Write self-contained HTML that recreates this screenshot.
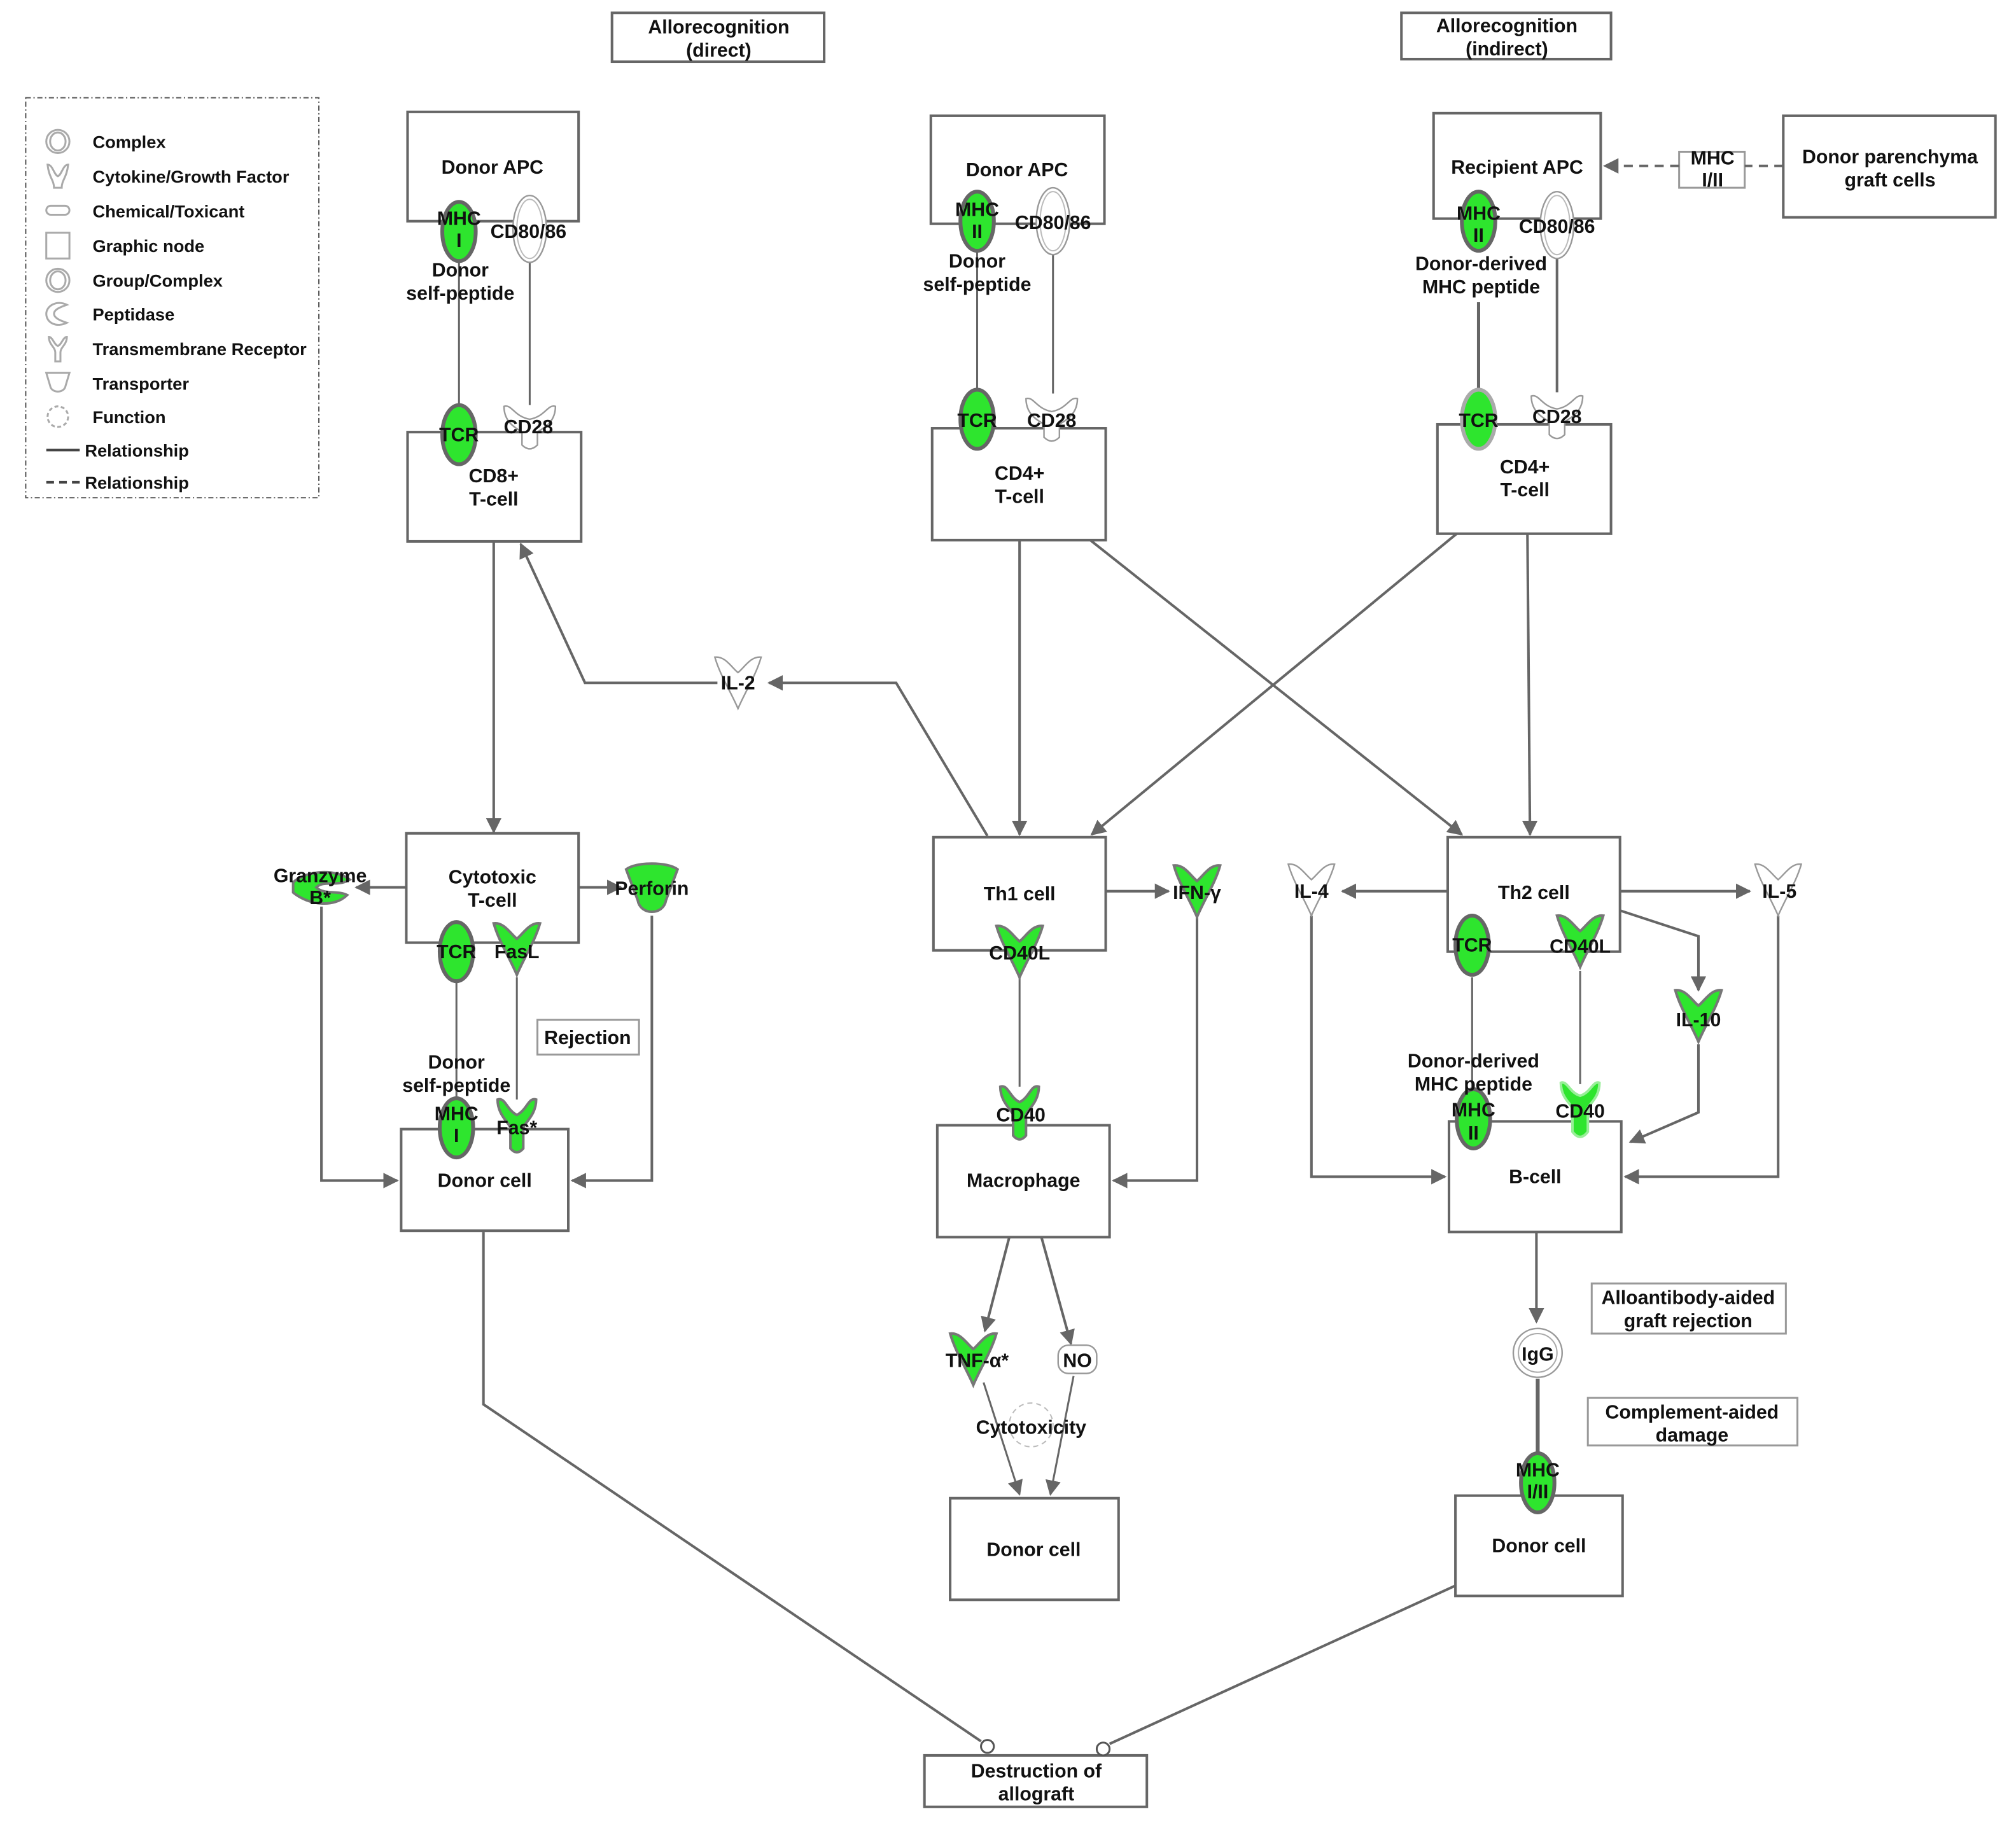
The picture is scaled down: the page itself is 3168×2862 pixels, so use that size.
<!DOCTYPE html>
<html><head><meta charset="utf-8"><style>
html,body{margin:0;padding:0;background:#fff;}
svg{display:block;}
text{font-family:"Liberation Sans",Arial,sans-serif;font-weight:bold;font-size:15px;fill:#111;text-anchor:middle;}
.lg{text-anchor:start;font-size:13.5px;}
</style></head><body>
<svg width="3168" height="2862" viewBox="0 0 1568 1416" preserveAspectRatio="none" xmlns="http://www.w3.org/2000/svg">
<defs>
<marker id="a" viewBox="0 0 10 10" refX="9" refY="5" markerWidth="12" markerHeight="12" markerUnits="userSpaceOnUse" orient="auto"><path d="M0,0 L10,5 L0,10 Z" fill="#666"/></marker>
<g id="ell"><ellipse rx="13" ry="23" fill="#2ee52e" stroke="#666" stroke-width="3"/></g>
<g id="cy"><path d="M-18,-20 C-10,-21 -5,-12 0,-8 C5,-12 10,-21 18,-20 C14,-6 6,6 0,20 C-6,6 -14,-6 -18,-20 Z" fill="#2ee52e" stroke="#777" stroke-width="2"/></g>
<g id="cyw"><path d="M-18,-20 C-10,-21 -5,-12 0,-8 C5,-12 10,-21 18,-20 C14,-6 6,6 0,20 C-6,6 -14,-6 -18,-20 Z" fill="#fff" stroke="#999" stroke-width="1.2"/></g>
<g id="rc"><path d="M-15,-20 C-15,-8 -6,-2 -5,2 L-5,18 Q0,24 5,18 L5,2 C6,-2 15,-8 15,-20 C9,-22 8,-12 0,-8 C-8,-12 -9,-22 -15,-20 Z" fill="#2ee52e" stroke="#777" stroke-width="2"/></g>
<g id="cd28"><path d="M-20,-12 C-20,2 -8,6 -6,8 L-6,18 Q0,24 6,18 L6,8 C8,6 20,2 20,-12 C14,-14 12,-4 0,-2 C-12,-4 -14,-14 -20,-12 Z" fill="#fff" stroke="#999" stroke-width="1.2"/></g>
<g id="cd80"><ellipse rx="13" ry="26" fill="#fff" stroke="#999" stroke-width="1.2"/><ellipse rx="10" ry="23" fill="none" stroke="#bbb" stroke-width="1"/></g>
</defs>
<g fill="none" stroke="#666" stroke-width="2">
<rect x="476" y="10" width="165" height="38"/>
<rect x="1090" y="10" width="163" height="36"/>
<rect x="317" y="87" width="133" height="85"/>
<rect x="317" y="336" width="135" height="85"/>
<rect x="724" y="90" width="135" height="84"/>
<rect x="725" y="333" width="135" height="87"/>
<rect x="1115" y="88" width="130" height="82"/>
<rect x="1118" y="330" width="135" height="85"/>
<rect x="1387" y="90" width="165" height="79"/>
<rect x="316" y="648" width="134" height="85"/>
<rect x="312" y="878" width="130" height="79"/>
<rect x="726" y="651" width="134" height="88"/>
<rect x="729" y="875" width="134" height="87"/>
<rect x="739" y="1165" width="131" height="79"/>
<rect x="1126" y="651" width="134" height="89"/>
<rect x="1127" y="872" width="134" height="86"/>
<rect x="1132" y="1163" width="130" height="78"/>
<rect x="719" y="1365" width="173" height="40"/>
</g>
<g fill="none" stroke="#999" stroke-width="1.5">
<rect x="418" y="793" width="79" height="27"/>
<rect x="1238" y="998" width="151" height="39"/>
<rect x="1235" y="1087" width="163" height="37"/>
<rect x="1306" y="118" width="51" height="28"/>
</g>
<rect x="20" y="76" width="228" height="311" fill="none" stroke="#555" stroke-width="1" stroke-dasharray="4,2,1,2"/>
<!-- legend icons -->
<g fill="none" stroke="#aaa" stroke-width="1.5">
<ellipse cx="45" cy="110" rx="9" ry="9"/><ellipse cx="45" cy="110" rx="6" ry="7"/>
<path d="M37,128 C38,138 42,140 42,146 L48,146 C48,140 52,138 53,128 C49,128 48,136 45,137 C42,136 41,128 37,128 Z"/>
<rect x="36" y="160" width="18" height="7" rx="3.5"/>
<rect x="36" y="181" width="18" height="20"/>
<ellipse cx="45" cy="218" rx="9" ry="9"/><ellipse cx="45" cy="218" rx="6" ry="7"/>
<path d="M52,237 C44,233 36,238 36,244 C36,251 44,255 52,251 C46,249 42,247 42,244 C42,241 46,239 52,237 Z"/>
<path d="M38,262 C38,268 43,270 43,274 L43,281 L47,281 L47,274 C47,270 52,268 52,262 C49,262 48,268 45,269 C42,268 41,262 38,262 Z"/>
<path d="M36,290 L54,290 L51,300 C50,306 40,306 39,300 Z"/>
<circle cx="45" cy="324" r="8" stroke-dasharray="3,2"/>
</g>
<line x1="36" y1="350" x2="62" y2="350" stroke="#444" stroke-width="2"/>
<line x1="36" y1="375" x2="62" y2="375" stroke="#444" stroke-width="2" stroke-dasharray="6,4"/>
<g>
<text class="lg" x="72" y="115">Complex</text>
<text class="lg" x="72" y="142">Cytokine/Growth Factor</text>
<text class="lg" x="72" y="169">Chemical/Toxicant</text>
<text class="lg" x="72" y="196">Graphic node</text>
<text class="lg" x="72" y="223">Group/Complex</text>
<text class="lg" x="72" y="249">Peptidase</text>
<text class="lg" x="72" y="276">Transmembrane Receptor</text>
<text class="lg" x="72" y="303">Transporter</text>
<text class="lg" x="72" y="329">Function</text>
<text class="lg" x="66" y="355">Relationship</text>
<text class="lg" x="66" y="380">Relationship</text>
</g>
<!-- connectors -->
<g fill="none" stroke="#666" stroke-width="2">
<line x1="357" y1="200" x2="357" y2="316" stroke-width="1.5"/>
<line x1="412" y1="203" x2="412" y2="315" stroke-width="1.5"/>
<line x1="760" y1="195" x2="760" y2="302" stroke-width="1.5"/>
<line x1="819" y1="197" x2="819" y2="306" stroke-width="1.5"/>
<line x1="1150" y1="235" x2="1150" y2="304" stroke-width="2.5"/>
<line x1="1211" y1="200" x2="1211" y2="305" stroke-width="2"/>
<line x1="1387" y1="129" x2="1357" y2="129" stroke-dasharray="7,5"/>
<line x1="1306" y1="129" x2="1248" y2="129" stroke-dasharray="7,5" marker-end="url(#a)"/>
<line x1="384" y1="421" x2="384" y2="647" marker-end="url(#a)"/>
<polyline points="768,650 697,531 598,531" marker-end="url(#a)"/>
<polyline points="558,531 455,531 405,423" marker-end="url(#a)"/>
<line x1="793" y1="420" x2="793" y2="649" marker-end="url(#a)"/>
<line x1="848" y1="420" x2="1137" y2="649" marker-end="url(#a)"/>
<line x1="1133" y1="415" x2="849" y2="649" marker-end="url(#a)"/>
<line x1="1188" y1="415" x2="1190" y2="649" marker-end="url(#a)"/>
<line x1="316" y1="690" x2="277" y2="690" marker-end="url(#a)"/>
<line x1="450" y1="690" x2="483" y2="690" marker-end="url(#a)"/>
<line x1="355" y1="763" x2="355" y2="855" stroke-width="1.5"/>
<line x1="402" y1="760" x2="402" y2="855" stroke-width="1.5"/>
<polyline points="250,705 250,918 309,918" marker-end="url(#a)"/>
<polyline points="507,712 507,918 445,918" marker-end="url(#a)"/>
<line x1="860" y1="693" x2="909" y2="693" marker-end="url(#a)"/>
<polyline points="931,713 931,918 866,918" marker-end="url(#a)"/>
<line x1="793" y1="760" x2="793" y2="845" stroke-width="1.5"/>
<line x1="785" y1="962" x2="766" y2="1035" marker-end="url(#a)"/>
<line x1="810" y1="962" x2="833" y2="1045" marker-end="url(#a)"/>
<line x1="765" y1="1075" x2="793" y2="1162" stroke-width="1.5" marker-end="url(#a)"/>
<line x1="835" y1="1070" x2="817" y2="1162" stroke-width="1.5" marker-end="url(#a)"/>
<line x1="1126" y1="693" x2="1044" y2="693" marker-end="url(#a)"/>
<line x1="1260" y1="693" x2="1361" y2="693" marker-end="url(#a)"/>
<polyline points="1260,708 1321,728 1321,770" marker-end="url(#a)"/>
<polyline points="1321,812 1321,865 1268,888" marker-end="url(#a)"/>
<polyline points="1383,712 1383,915 1264,915" marker-end="url(#a)"/>
<polyline points="1020,712 1020,915 1124,915" marker-end="url(#a)"/>
<line x1="1145" y1="760" x2="1145" y2="855" stroke-width="1.5"/>
<line x1="1229" y1="755" x2="1229" y2="843" stroke-width="1.5"/>
<line x1="1195" y1="958" x2="1195" y2="1028" marker-end="url(#a)"/>
<line x1="1196" y1="1072" x2="1196" y2="1135" stroke-width="3"/>
<polyline points="376,958 376,1092 763,1354"/>
<line x1="1132" y1="1233" x2="863" y2="1356"/>
</g>
<circle cx="768" cy="1358" r="5" fill="#fff" stroke="#555" stroke-width="1.5"/>
<circle cx="858" cy="1360" r="5" fill="#fff" stroke="#555" stroke-width="1.5"/>
<!-- molecules -->
<use href="#ell" x="357" y="180"/>
<use href="#cd80" x="412" y="178"/>
<use href="#ell" x="357" y="338"/>
<use href="#cd28" x="412" y="328"/>
<use href="#ell" x="760" y="172"/>
<use href="#cd80" x="819" y="172"/>
<use href="#ell" x="760" y="326"/>
<use href="#cd28" x="818" y="322"/>
<use href="#ell" x="1150" y="172"/>
<use href="#cd80" x="1211" y="175"/>
<ellipse cx="1150" cy="326" rx="13" ry="23" fill="#2ee52e" stroke="#aaa" stroke-width="3"/>
<use href="#cd28" x="1211" y="320"/>
<use href="#cyw" x="574" y="531"/>
<path d="M228,686 C240,676 262,676 272,684 C262,690 252,684 246,690 C252,696 262,692 270,696 C260,706 240,704 228,694 Z" fill="#2ee52e" stroke="#777" stroke-width="2"/>
<path d="M487,676 C495,670 519,670 527,676 L518,700 C516,712 498,712 496,700 Z" fill="#2ee52e" stroke="#777" stroke-width="2"/>
<use href="#ell" x="355" y="740"/>
<use href="#cy" x="402" y="738"/>
<use href="#ell" x="355" y="877"/>
<use href="#rc" x="402" y="875"/>
<use href="#cy" x="931" y="693"/>
<use href="#cy" x="793" y="740"/>
<use href="#rc" x="793" y="865"/>
<use href="#cy" x="757" y="1057"/>
<rect x="823" y="1046" width="30" height="22" rx="8" fill="#fff" stroke="#999" stroke-width="1.2"/>
<circle cx="802" cy="1108" r="17" fill="none" stroke="#bbb" stroke-width="1" stroke-dasharray="4,3"/>
<use href="#cyw" x="1020" y="692"/>
<use href="#cyw" x="1383" y="692"/>
<use href="#cy" x="1321" y="790"/>
<use href="#ell" x="1145" y="735"/>
<use href="#cy" x="1229" y="732"/>
<use href="#ell" x="1146" y="870"/>
<path d="M1214,842 C1214,854 1222,858 1223,862 L1223,880 Q1229,888 1235,880 L1235,862 C1236,858 1244,854 1244,842 C1239,840 1237,850 1229,852 C1221,850 1219,840 1214,842 Z" fill="#2ee52e" stroke="#9e9" stroke-width="2"/>
<circle cx="1196" cy="1052" r="19" fill="#fff" stroke="#999" stroke-width="1.2"/>
<circle cx="1196" cy="1052" r="15" fill="none" stroke="#aaa" stroke-width="1"/>
<use href="#ell" x="1196" y="1153"/>
<!-- labels -->
<text x="559" y="26">Allorecognition</text><text x="559" y="44">(direct)</text>
<text x="1172" y="25">Allorecognition</text><text x="1172" y="43">(indirect)</text>
<text x="383" y="135" font-size="16">Donor APC</text>
<text x="357" y="175">MHC</text><text x="357" y="192">I</text>
<text x="411" y="185">CD80/86</text>
<text x="358" y="215">Donor</text><text x="358" y="233">self-peptide</text>
<text x="357" y="343">TCR</text><text x="411" y="337">CD28</text>
<text x="384" y="375">CD8+</text><text x="384" y="393">T-cell</text>
<text x="791" y="137">Donor APC</text>
<text x="760" y="168">MHC</text><text x="760" y="185">II</text>
<text x="819" y="178">CD80/86</text>
<text x="760" y="208">Donor</text><text x="760" y="226">self-peptide</text>
<text x="760" y="332">TCR</text><text x="818" y="332">CD28</text>
<text x="793" y="373">CD4+</text><text x="793" y="391">T-cell</text>
<text x="1180" y="135">Recipient APC</text>
<text x="1150" y="171">MHC</text><text x="1150" y="188">II</text>
<text x="1211" y="181">CD80/86</text>
<text x="1152" y="210">Donor-derived</text><text x="1152" y="228">MHC peptide</text>
<text x="1150" y="332">TCR</text><text x="1211" y="329">CD28</text>
<text x="1186" y="368">CD4+</text><text x="1186" y="386">T-cell</text>
<text x="1332" y="128">MHC</text><text x="1332" y="145">I/II</text>
<text x="1470" y="127">Donor parenchyma</text><text x="1470" y="145">graft cells</text>
<text x="574" y="536">IL-2</text>
<text x="383" y="687">Cytotoxic</text><text x="383" y="705">T-cell</text>
<text x="249" y="686">Granzyme</text><text x="249" y="703">B*</text>
<text x="507" y="696">Perforin</text>
<text x="355" y="745">TCR</text><text x="402" y="745">FasL</text>
<text x="457" y="812">Rejection</text>
<text x="355" y="831">Donor</text><text x="355" y="849">self-peptide</text>
<text x="355" y="871">MHC</text><text x="355" y="888">I</text>
<text x="402" y="882">Fas*</text>
<text x="377" y="923">Donor cell</text>
<text x="793" y="700">Th1 cell</text>
<text x="931" y="699">IFN-γ</text>
<text x="793" y="746">CD40L</text>
<text x="794" y="872">CD40</text>
<text x="796" y="923">Macrophage</text>
<text x="760" y="1063">TNF-α*</text>
<text x="838" y="1063">NO</text>
<text x="802" y="1115">Cytotoxicity</text>
<text x="804" y="1210">Donor cell</text>
<text x="1020" y="698">IL-4</text>
<text x="1193" y="699">Th2 cell</text>
<text x="1384" y="698">IL-5</text>
<text x="1145" y="740">TCR</text><text x="1229" y="741">CD40L</text>
<text x="1321" y="798">IL-10</text>
<text x="1146" y="830">Donor-derived</text><text x="1146" y="848">MHC peptide</text>
<text x="1146" y="868">MHC</text><text x="1146" y="886">II</text>
<text x="1229" y="869">CD40</text>
<text x="1194" y="920">B-cell</text>
<text x="1313" y="1014">Alloantibody-aided</text><text x="1313" y="1032">graft rejection</text>
<text x="1196" y="1058">IgG</text>
<text x="1316" y="1103">Complement-aided</text><text x="1316" y="1121">damage</text>
<text x="1196" y="1148">MHC</text><text x="1196" y="1165">I/II</text>
<text x="1197" y="1207">Donor cell</text>
<text x="806" y="1382">Destruction of</text><text x="806" y="1400">allograft</text>
</svg>
</body></html>
